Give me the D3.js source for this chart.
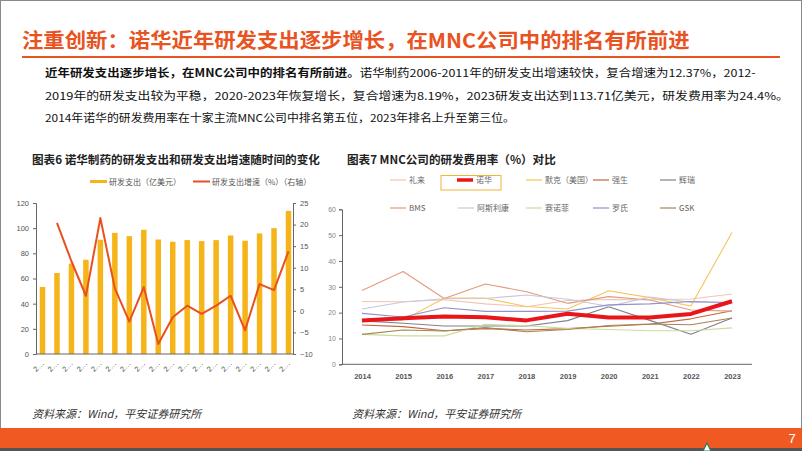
<!DOCTYPE html>
<html><head><meta charset="utf-8">
<script src="https://cdn.jsdelivr.net/npm/d3@7/dist/d3.min.js"></script>
<style>
html,body{margin:0;padding:0;background:#fff;}
svg{display:block;font-family:"Noto Sans CJK SC","Noto Sans",sans-serif;}
</style></head>
<body><svg id="c" width="802" height="451"></svg>
<script>
// ---------- data ----------
const pageTitle = "注重创新：诺华近年研发支出逐步增长，在MNC公司中的排名有所前进";
const paraBold = "近年研发支出逐步增长，在MNC公司中的排名有所前进。";
const paraLines = [
  "诺华制药2006-2011年的研发支出增速较快，复合增速为12.37%，2012-",
  "2019年的研发支出较为平稳，2020-2023年恢复增长，复合增速为8.19%，2023研发支出达到113.71亿美元，研发费用率为24.4%。",
  "2014年诺华的研发费用率在十家主流MNC公司中排名第五位，2023年排名上升至第三位。"
];
const leftTitle = "图表6 诺华制药的研发支出和研发支出增速随时间的变化";
const rightTitle = "图表7 MNC公司的研发费用率（%）对比";
const sourceText = "资料来源：Wind，平安证券研究所";
const pageNumber = "7";

const spendYears = [2006,2007,2008,2009,2010,2011,2012,2013,2014,2015,2016,2017,2018,2019,2020,2021,2022,2023];
const spendLabels = spendYears.map(() => "2…");
const spendValues = [53.3,64.4,71.8,74.9,90.8,96.3,93.7,98.7,91.0,89.2,90.5,89.7,90.5,94.2,90.0,95.8,100.0,113.7];
const growthValues = [null,20.4,11.5,3.5,21.5,5.2,-2.5,5.5,-7.7,-1.5,1.2,-0.7,1.2,3.5,-4.5,6.2,4.8,13.8];
const leftTicks = [0,20,40,60,80,100,120];
const rightTicks = [-10,-5,0,5,10,15,20,25];
const leftLegend = ["研发支出（亿美元）","研发支出增速（%）（右轴）"];

const rateYears = [2014,2015,2016,2017,2018,2019,2020,2021,2022,2023];
const rateTicks = [0,10,20,30,40,50,60];
const companies = ["礼来","诺华","默克（美国）","强生","辉瑞","BMS","阿斯利康","赛诺菲","罗氏","GSK"];
const lilly    = [24.3,24.2,25.0,23.4,22.3,24.7,25.1,25.0,25.3,27.2];
const novartis = [17.0,17.8,18.5,18.2,17.0,19.6,18.1,18.1,19.5,24.4];
const merck    = [17.1,17.1,25.6,25.6,22.4,21.4,28.5,25.8,22.6,51.0];
const jnj      = [15.2,14.6,13.0,13.8,13.3,13.8,14.7,15.5,17.6,20.7];
const pfizer   = [16.8,15.9,14.8,14.8,14.8,16.9,22.3,17.0,11.6,17.9];
const bms      = [28.6,35.9,25.5,31.1,28.1,23.6,26.2,24.9,21.0,20.6];
const az       = [21.4,24.1,25.4,25.5,26.8,25.2,22.5,26.0,24.0,23.8];
const sanofi   = [11.6,11.0,11.0,15.5,14.9,13.9,13.5,13.0,13.0,14.1];
const roche    = [19.7,18.3,21.9,20.5,20.5,20.6,23.0,23.4,24.3,23.9];
const gsk      = [11.6,13.3,12.9,14.2,12.6,13.5,15.0,15.6,15.3,17.9];
const rateSeries = [lilly,novartis,merck,jnj,pfizer,bms,az,sanofi,roche,gsk];
const rateColors = ["#f2c4b4","#e8161b","#f8c45a","#c2653e","#808090","#e39a7e","#c9c6de","#c8de9a","#8e93c9","#a58456"];

// ---------- helpers ----------
const svg = d3.select("#c");
function fit(sel, width){
  const n = sel.node(); const w = n.getComputedTextLength();
  const x = +sel.attr("x");
  sel.attr("transform", `translate(${x},0) scale(${width/w},1) translate(${-x},0)`);
}

// page frame
svg.append("rect").attr("x",0.5).attr("y",0.5).attr("width",801).attr("height",450).attr("fill","none").attr("stroke","#8a8a8a");

// title
const t = svg.append("text").attr("x",22).attr("y",48).attr("font-size",20).attr("font-weight","bold")
  .attr("fill","#e8531f").text(pageTitle);
fit(t, 668);
svg.append("rect").attr("x",22).attr("y",56).attr("width",758).attr("height",2).attr("fill","#e8531f");

// paragraph
const p1 = svg.append("text").attr("x",45).attr("y",77).attr("font-size",11).attr("fill","#111");
p1.append("tspan").attr("font-weight","bold").text(paraBold);
p1.append("tspan").text(paraLines[0]);
fit(p1, 711);
const p2 = svg.append("text").attr("x",45).attr("y",100).attr("font-size",11).attr("fill","#111").text(paraLines[1]);
fit(p2, 745);
const p3 = svg.append("text").attr("x",45).attr("y",122).attr("font-size",11).attr("fill","#111").text(paraLines[2]);
fit(p3, 470);

// ---------- left chart ----------
const lt = svg.append("text").attr("x",32).attr("y",164).attr("font-size",11.5).attr("font-weight","bold").attr("fill","#222").text(leftTitle);
fit(lt, 288);

const xL = d3.scaleBand().domain(spendYears).range([37,294]).paddingInner(0.62).paddingOuter(0.19);
const yL = d3.scaleLinear().domain([0,120]).range([354,203]);
const yR = d3.scaleLinear().domain([-10,25]).range([354,203]);

// legend
const lg = svg.append("g");
lg.append("rect").attr("x",90).attr("y",180).attr("width",17).attr("height",3).attr("fill","#f5b41a");
lg.append("text").attr("x",109).attr("y",184.5).attr("font-size",8).attr("fill","#555").text(leftLegend[0]);
lg.append("rect").attr("x",193).attr("y",180.5).attr("width",17).attr("height",2).attr("fill","#e8501e");
lg.append("text").attr("x",212).attr("y",184.5).attr("font-size",8).attr("fill","#555").text(leftLegend[1]);

// bars
svg.append("g").selectAll("rect").data(spendYears).join("rect")
  .attr("x",d=>xL(d)).attr("width",xL.bandwidth())
  .attr("y",(d,i)=>yL(spendValues[i])).attr("height",(d,i)=>yL(0)-yL(spendValues[i]))
  .attr("fill","#f5b41a");

// line
const gl = d3.line().defined(d=>d.v!==null).x(d=>xL(d.y)+xL.bandwidth()/2).y(d=>yR(d.v));
svg.append("path").datum(spendYears.map((y,i)=>({y,v:growthValues[i]})))
  .attr("d",gl).attr("fill","none").attr("stroke","#e8501e").attr("stroke-width",2).attr("stroke-linejoin","round");

// axes
const axL = svg.append("g").attr("transform","translate(36,0)")
  .call(d3.axisLeft(yL).tickValues(leftTicks).tickSize(3).tickPadding(4));
const axR = svg.append("g").attr("transform","translate(293,0)")
  .call(d3.axisRight(yR).tickValues(rightTicks).tickSize(3).tickPadding(4));
const axB = svg.append("g").attr("transform","translate(0,354)")
  .call(d3.axisBottom(xL).tickSize(0).tickFormat((d,i)=>spendLabels[i]));
axB.select(".domain").attr("d","M36,0H293");
axB.selectAll("text").attr("transform","translate(-2,6) rotate(-45)").attr("text-anchor","end").attr("dy","0.35em");
[axL,axR,axB].forEach(a=>{
  a.selectAll("text").attr("font-size",7.5).attr("fill","#555").attr("font-family","Liberation Sans, Arial, sans-serif");
  a.select(".domain").attr("stroke","#666");
  a.selectAll(".tick line").attr("stroke","#666");
});

// ---------- right chart ----------
const rt = svg.append("text").attr("x",347).attr("y",164).attr("font-size",11.5).attr("font-weight","bold").attr("fill","#222").text(rightTitle);
fit(rt, 209);

const xP = d3.scalePoint().domain(rateYears).range([362,732]);
const yP = d3.scaleLinear().domain([0,60]).range([364.3,209.3]);

const axP = svg.append("g").attr("transform","translate(342,0)")
  .call(d3.axisLeft(yP).tickValues(rateTicks).tickSize(3).tickPadding(3));
axP.selectAll("text").attr("font-size",7).attr("fill","#888").attr("font-family","Liberation Sans, Arial, sans-serif");
axP.select(".domain").attr("stroke","#666");
axP.selectAll(".tick line").attr("stroke","#666");
const axPB = svg.append("g").attr("transform","translate(0,364.3)")
  .call(d3.axisBottom(xP).tickSize(0).tickPadding(9));
axPB.select(".domain").attr("d","M342,0H752").attr("stroke","#666");
axPB.selectAll("text").attr("font-size",7.5).attr("font-weight","bold").attr("fill","#555").attr("font-family","Liberation Sans, Arial, sans-serif");

const lineP = d3.line().x((d,i)=>xP(rateYears[i])).y(d=>yP(d));
const order = [0,2,3,4,5,6,7,8,9,1];
svg.append("g").selectAll("path").data(order).join("path")
  .attr("d",k=>lineP(rateSeries[k])).attr("fill","none")
  .attr("stroke",k=>rateColors[k]).attr("stroke-width",k=>k===1?4:1.1).attr("stroke-linejoin","round");

// legend
const legPos = [[390,180],[457,180],[526,180],[593,180],[660,180],[390,208],[458,208],[526,208],[593,208],[660,208]];
const lgR = svg.append("g");
companies.forEach((c,k)=>{
  const [x,y] = legPos[k];
  if(k===1){
    lgR.append("rect").attr("x",441).attr("y",175.5).attr("width",60).attr("height",14.5).attr("fill","none").attr("stroke","#f2b43a").attr("stroke-width",1);
  }
  lgR.append("line").attr("x1",x).attr("x2",x+16).attr("y1",y).attr("y2",y)
    .attr("stroke",rateColors[k]).attr("stroke-width",k===1?3.5:1.2);
  lgR.append("text").attr("x",x+19).attr("y",y+3).attr("font-size",8).attr("fill","#666").text(c);
});

// sources
svg.append("text").attr("x",32).attr("y",418).attr("font-size",11).attr("font-style","italic").attr("fill","#333").text(sourceText);
svg.append("text").attr("x",352).attr("y",418).attr("font-size",11).attr("font-style","italic").attr("fill","#333").text(sourceText);

// footer band
svg.append("rect").attr("x",0).attr("y",428).attr("width",802).attr("height",20).attr("fill","#f05a22");
svg.append("rect").attr("x",0).attr("y",448).attr("width",802).attr("height",3).attr("fill","#555");
svg.append("path").attr("d","M703,451 L707,443 L711,451 Z").attr("fill","#fff").attr("stroke","#2a7a4a").attr("stroke-width",1.2);
svg.append("text").attr("x",792).attr("y",443).attr("font-size",13).attr("fill","#fff").attr("text-anchor","middle")
  .attr("font-family","Liberation Sans, Arial, sans-serif").text(pageNumber);
</script></body></html>
